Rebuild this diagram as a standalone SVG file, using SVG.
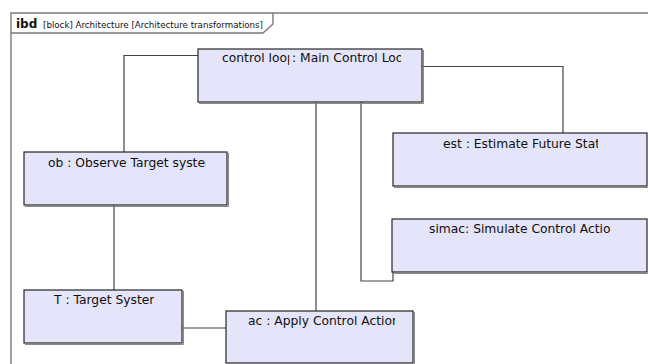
<svg xmlns="http://www.w3.org/2000/svg" width="648" height="364" viewBox="0 0 648 364">
<style>
.frame{fill:none;stroke:#7a7a7a;stroke-width:1.4}
.box{fill:#e4e4fa;stroke:#262626;stroke-width:1.2}
.sh{fill:none;stroke:#8a8a8a;stroke-width:1}
.con{fill:none;stroke:#444;stroke-width:1.2}
.lbl{font-family:"DejaVu Sans",sans-serif;font-size:12.3px;fill:#111}
.hdr{font-family:"DejaVu Sans",sans-serif;fill:#111}
</style>
<defs>
<clipPath id="cMainA"><rect x="198" y="49" width="91.3" height="53"/></clipPath>
<clipPath id="cMainB"><rect x="198" y="49" width="203" height="53"/></clipPath>
<clipPath id="cEst"><rect x="393" y="133" width="205" height="53"/></clipPath>
<clipPath id="cSim"><rect x="392" y="219" width="219" height="53"/></clipPath>
<clipPath id="cOb"><rect x="24" y="152" width="182" height="53"/></clipPath>
<clipPath id="cT"><rect x="24" y="290" width="130" height="53"/></clipPath>
<clipPath id="cAc"><rect x="226" y="311" width="169" height="52"/></clipPath>
</defs>
<rect width="648" height="364" fill="#fff"/>
<g id="frame">
<path class="frame" d="M11,364 V13 H648"/>
<path class="frame" d="M11,33 H263 L273,24 V13"/>
<text class="hdr" x="16" y="28" font-size="12" font-weight="bold">ibd</text>
<text class="hdr" x="43" y="28" font-size="8.5" textLength="220" lengthAdjust="spacingAndGlyphs">[block] Architecture [Architecture transformations]</text>
</g>
<g id="connectors">
<polyline class="con" points="198,55.5 124,55.5 124,152"/>
<polyline class="con" points="422,66.5 563,66.5 563,133"/>
<polyline class="con" points="361,102 361,281 393,281 393,272"/>
<line class="con" x1="316" y1="102" x2="316" y2="311"/>
<line class="con" x1="114" y1="205" x2="114" y2="290"/>
<line class="con" x1="182" y1="328" x2="226" y2="328"/>
</g>
<g id="main">
<path class="sh" d="M199,103.5 H423.5 V50"/>
<rect class="box" x="198" y="49" width="224" height="53"/>
<text class="lbl" x="222" y="62" clip-path="url(#cMainA)">control loop</text>
<text class="lbl" x="292" y="62" clip-path="url(#cMainB)">: Main Control Loop</text>
</g>
<g id="est">
<path class="sh" d="M394,187.5 H648"/>
<rect class="box" x="393" y="133" width="254" height="53"/>
<text class="lbl" x="443" y="148" clip-path="url(#cEst)">est : Estimate Future State</text>
</g>
<g id="simac">
<path class="sh" d="M393,273.5 H648"/>
<rect class="box" x="392" y="219" width="255" height="53"/>
<text class="lbl" x="429" y="233" clip-path="url(#cSim)">simac: Simulate Control Action</text>
</g>
<g id="ob">
<path class="sh" d="M25,206.5 H228.5 V153"/>
<rect class="box" x="24" y="152" width="203" height="53"/>
<text class="lbl" x="48" y="166.5" clip-path="url(#cOb)">ob : Observe Target system</text>
</g>
<g id="T">
<path class="sh" d="M25,344.5 H183.5 V291"/>
<rect class="box" x="24" y="290" width="158" height="53"/>
<text class="lbl" x="54" y="304" clip-path="url(#cT)">T : Target System</text>
</g>
<g id="ac">
<path class="sh" d="M414.5,312 V364"/>
<rect class="box" x="226" y="311" width="187" height="52"/>
<text class="lbl" x="248" y="325" clip-path="url(#cAc)">ac : Apply Control Action</text>
</g>
</svg>
